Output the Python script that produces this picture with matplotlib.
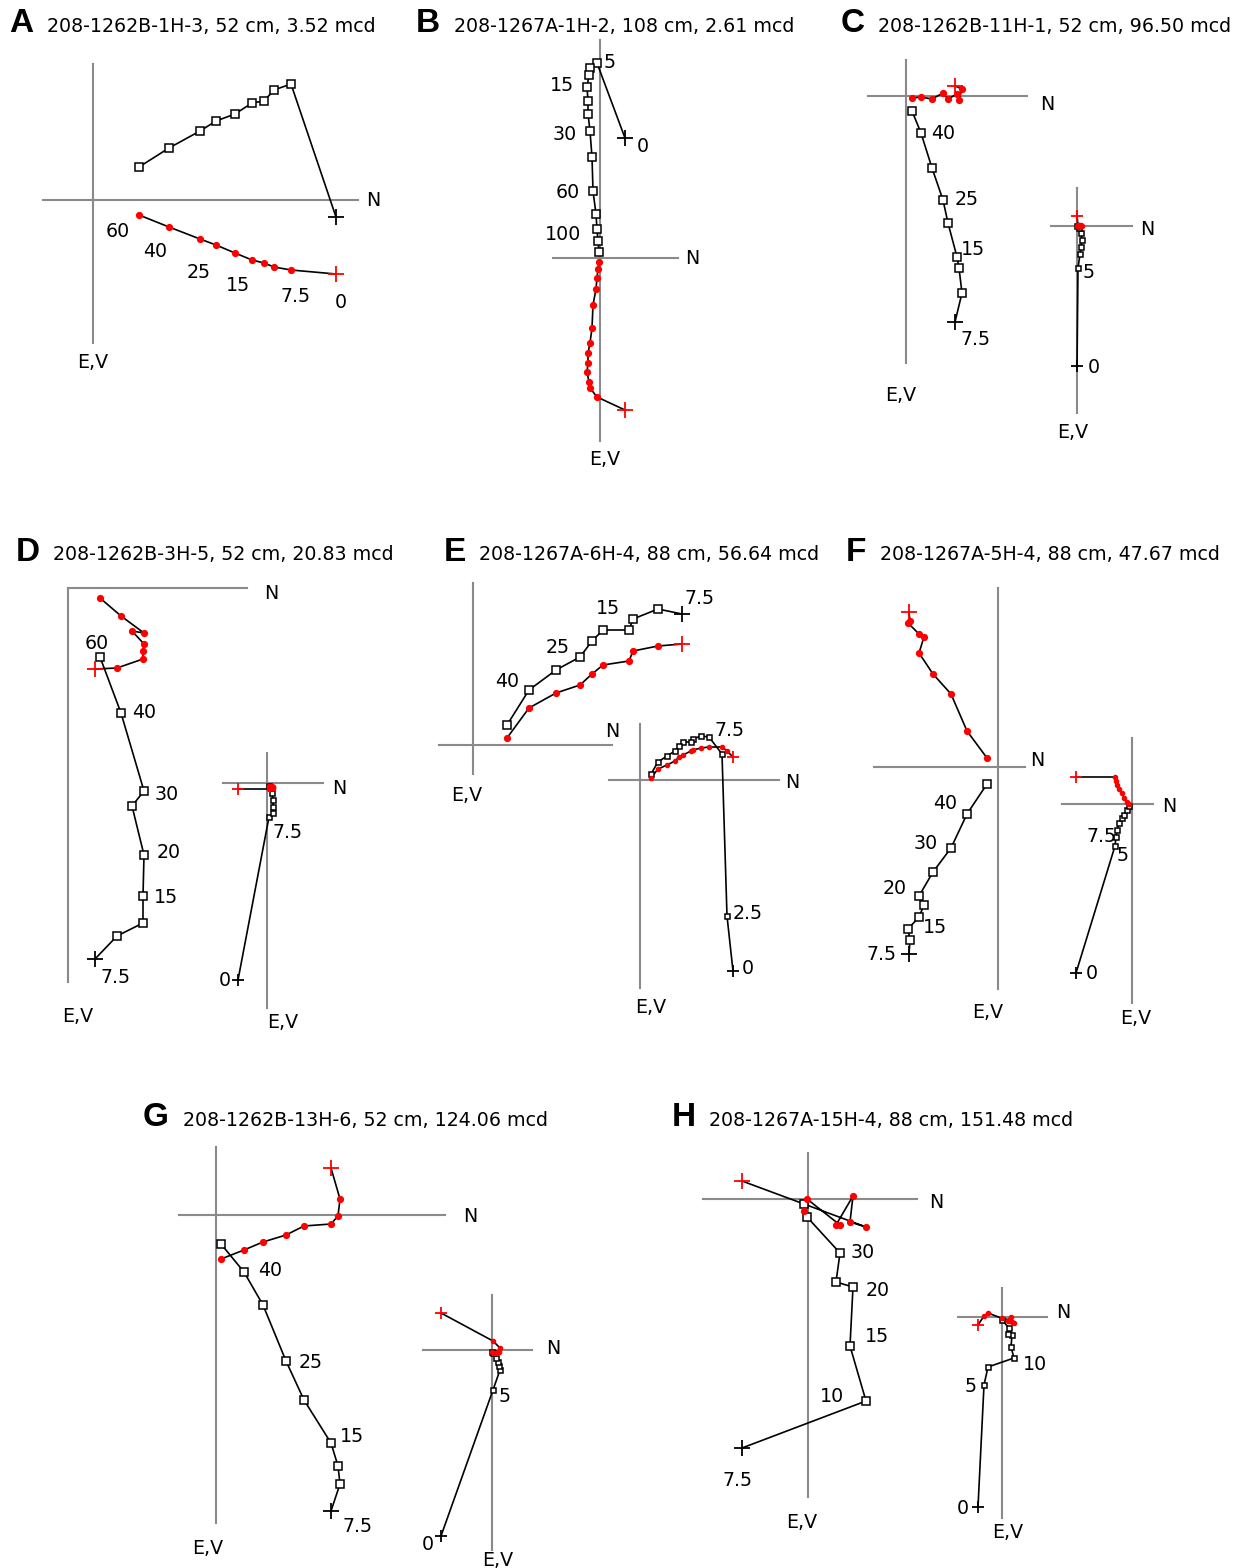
import numpy as np
import matplotlib.pyplot as plt

plt.rcParams['font.family'] = ['DejaVu Sans']

# ---- DATA: N component, E component (horizontal) and V component (vertical), NRM first ----
A_N = [243, 198, 181, 171, 159, 142, 123, 107, 76, 46]
A_E = [17, -116, -110, -99, -97, -86, -79, -69, -52, -33]
A_V = [74, 70, 67, 63, 60, 53, 45, 39, 27, 15]
A_STEPS = ["60", "40", "25", "15", "7.5", "0"]

B_N = [25, -3, -10, -11, -13, -12, -12, -10, -8, -7, -4, -3, -2, -1]
B_E = [-120, -195, -190, -183, -171, -157, -144, -127, -101, -67, -44, -29, -17, -6]
B_V = [152, 139, 130, 124, 114, 105, 95, 85, 70, 47, 31, 20, 11, 4]
B_STEPS = ["5", "15", "30", "60", "100", "0"]

C1_N = [49, 56, 53, 51, 42, 37, 26, 15, 6]
C1_E = [226, 197, 172, 161, 127, 104, 72, 37, 15]
C1_V = [-10, -7, 4, -2, 3, -3, 3, 1, 2]
C1_STEPS = ["40", "25", "15", "7.5"]

C2_N = [0, 1, 3, 4, 5, 4, 2, 0]
C2_E = [140, 42, 28, 21, 14, 7, 2, 0]
C2_V = [-10, -1, 0, 0, 0, -1, -1, 0]
C2_STEPS = ["5", "0"]

D1_N = [27, 49, 75, 75, 76, 64, 76, 53, 32]
D1_E = [371, 348, 335, 308, 267, 218, 203, 125, 69]
D1_V = [81, 80, 71, 63, 56, 43, 45, 28, 10]
D1_STEPS = ["60", "40", "30", "20", "15", "7.5"]

D2_N = [-29, 2, 6, 6, 6, 5, 2]
D2_E = [197, 34, 30, 24, 17, 10, 3]
D2_V = [6, 6, 5, 4, 4, 3, 3]
D2_STEPS = ["0", "7.5"]

E1_N = [209, 185, 160, 156, 130, 119, 107, 83, 56, 34]
E1_E = [-131, -136, -126, -115, -115, -104, -88, -75, -55, -20]
E1_V = [-101, -99, -94, -84, -80, -71, -60, -52, -37, -7]
E1_STEPS = ["7.5", "15", "25", "40"]

E2_N = [93, 87, 82, 69, 61, 53, 51, 43, 39, 35, 27, 18, 11]
E2_E = [191, 136, -26, -43, -44, -41, -38, -38, -34, -29, -24, -18, -6]
E2_V = [-23, -29, -33, -33, -32, -30, -29, -25, -23, -19, -15, -11, -2]
E2_STEPS = ["7.5", "2.5", "0"]

F1_N = [-89, -88, -90, -79, -74, -79, -65, -47, -31, -11]
F1_E = [187, 173, 162, 150, 138, 129, 105, 81, 47, 17]
F1_V = [-155, -146, -144, -133, -130, -114, -93, -73, -36, -9]
F1_STEPS = ["40", "30", "20", "15", "7.5"]

F2_N = [-56, -17, -16, -15, -13, -10, -8, -5, -3]
F2_E = [169, 42, 33, 26, 19, 14, 11, 6, 2]
F2_V = [-27, -27, -23, -19, -15, -11, -6, -2, 0]
F2_STEPS = ["7.5", "5", "0"]

G1_N = [115, 124, 122, 115, 88, 70, 47, 28, 5]
G1_E = [296, 269, 251, 228, 185, 146, 90, 57, 29]
G1_V = [-47, -16, 1, 9, 11, 20, 27, 35, 44]
G1_STEPS = ["40", "25", "15", "7.5"]

G2_N = [-51, 1, 8, 7, 6, 4, 1, 0]
G2_E = [186, 40, 20, 16, 12, 8, 3, 2]
G2_V = [-37, -9, -2, 2, 2, 3, 3, 2]
G2_STEPS = ["5", "0"]

H1_N = [-66, 58, 42, 45, 28, 32, -1, -4]
H1_E = [249, 202, 147, 88, 83, 54, 18, 5]
H1_V = [-18, 28, 23, -3, 26, 26, 0, 12]
H1_STEPS = ["30", "20", "15", "10", "7.5"]

H2_N = [-24, -18, -14, 12, 9, 10, 6, 7, 0]
H2_E = [190, 68, 50, 41, 30, 18, 17, 11, 3]
H2_V = [8, -1, -4, 6, 0, 5, 4, 3, 1]
H2_STEPS = ["10", "5", "0"]

TITLES = [
    ("A", "208-1262B-1H-3, 52 cm, 3.52 mcd"),
    ("B", "208-1267A-1H-2, 108 cm, 2.61 mcd"),
    ("C", "208-1262B-11H-1, 52 cm, 96.50 mcd"),
    ("D", "208-1262B-3H-5, 52 cm, 20.83 mcd"),
    ("E", "208-1267A-6H-4, 88 cm, 56.64 mcd"),
    ("F", "208-1267A-5H-4, 88 cm, 47.67 mcd"),
    ("G", "208-1262B-13H-6, 52 cm, 124.06 mcd"),
    ("H", "208-1267A-15H-4, 88 cm, 151.48 mcd"),
]

# ---- LAYOUT (pixel canvas) ----
title_pos = [((9, 32), (47, 31.7)), ((416, 32), (454, 31.7)), ((841, 32), (878, 31.7)),
             ((15.5, 560.7), (52.7, 560)), ((444, 560.7), (479.3, 560)), ((846, 560.7), (880, 560)),
             ((142.5, 1125.7), (182.7, 1125.7)), ((671.5, 1125.7), (709.3, 1125.7))]

diagrams = [
    dict(d=(A_N, A_E, A_V), steps=A_STEPS, origin=(93, 200), xr=(-50, 265), yr=(-136, 143), small=False,
         lpos=[(25, 31), (62, 51), (106, 72), (145, 85), (202, 96), (248, 102)], npos=(280, 0), evpos=(0, 162)),
    dict(d=(B_N, B_E, B_V), steps=B_STEPS, origin=(600, 258), xr=(-47, 78), yr=(-218, 183), small=False,
         lpos=[(10, -196), (-38, -173), (-35, -124), (-32, -66), (-37, -24), (43, -112)], npos=(92, 0), evpos=(5, 201)),
    dict(d=(C1_N, C1_E, C1_V), steps=C1_STEPS, origin=(906, 96), xr=(-38, 121), yr=(-36, 267), small=False,
         lpos=[(37, 37), (61, 103), (67, 153), (70, 243)], npos=(141, 8), evpos=(-5, 299)),
    dict(d=(C2_N, C2_E, C2_V), steps=C2_STEPS, origin=(1077, 226), xr=(-26, 55), yr=(-38, 187), small=True,
         lpos=[(12, 46), (17, 141)], npos=(70, 3), evpos=(-4, 206)),
    dict(d=(D1_N, D1_E, D1_V), steps=D1_STEPS, origin=(68, 588), xr=(0, 179), yr=(0, 394), small=False,
         lpos=[(29, 55), (76, 124), (99, 206), (101, 264), (98, 309), (47, 389)], npos=(203, 5), evpos=(10, 429)),
    dict(d=(D2_N, D2_E, D2_V), steps=D2_STEPS, origin=(267, 783), xr=(-44, 56), yr=(-30, 225), small=True,
         lpos=[(-42, 197), (20, 49)], npos=(72, 5), evpos=(16, 239)),
    dict(d=(E1_N, E1_E, E1_V), steps=E1_STEPS, origin=(473, 745), xr=(-34, 139), yr=(-162, 29), small=False,
         lpos=[(227, -147), (135, -137), (85, -98), (34, -64)], npos=(139, -14), evpos=(-6, 50)),
    dict(d=(E2_N, E2_E, E2_V), steps=E2_STEPS, origin=(640, 780), xr=(-31, 139), yr=(-56, 208), small=True,
         lpos=[(90, -50), (108, 133), (108, 188)], npos=(152, 2), evpos=(11, 227)),
    dict(d=(F1_N, F1_E, F1_V), steps=F1_STEPS, origin=(998, 767), xr=(-124, 27), yr=(-179, 222), small=False,
         lpos=[(-53, 36), (-72, 76), (-103, 121), (-63, 160), (-117, 187)], npos=(39, -7), evpos=(-10, 245)),
    dict(d=(F2_N, F2_E, F2_V), steps=F2_STEPS, origin=(1132, 804), xr=(-70, 21), yr=(-66, 199), small=True,
         lpos=[(-30, 32), (-9, 51), (-40, 169)], npos=(37, 2), evpos=(4, 214)),
    dict(d=(G1_N, G1_E, G1_V), steps=G1_STEPS, origin=(216, 1215), xr=(-37, 229), yr=(-68, 308), small=False,
         lpos=[(54, 55), (95, 148), (136, 221), (141, 312)], npos=(254, 1), evpos=(-8, 333)),
    dict(d=(G2_N, G2_E, G2_V), steps=G2_STEPS, origin=(492, 1350), xr=(-69, 40), yr=(-55, 200), small=True,
         lpos=[(13, 46), (-64, 194)], npos=(61, -1), evpos=(6, 210)),
    dict(d=(H1_N, H1_E, H1_V), steps=H1_STEPS, origin=(808, 1199), xr=(-105, 109), yr=(-46, 298), small=False,
         lpos=[(55, 53), (70, 92), (69, 137), (24, 197), (-70, 281)], npos=(128, 4), evpos=(-6, 323)),
    dict(d=(H2_N, H2_E, H2_V), steps=H2_STEPS, origin=(1002, 1317), xr=(-44, 45), yr=(-29, 201), small=True,
         lpos=[(33, 48), (-31, 70), (-39, 191)], npos=(61, -4), evpos=(6, 215)),
]

AXIS_GRAY = "#8a8a8a"
TXT = 13.65

fig = plt.figure(figsize=(12.41, 15.68), dpi=100)
ax = fig.add_axes([0, 0, 1, 1])
ax.set_xlim(0, 1241)
ax.set_ylim(1568, 0)
ax.axis("off")

for (letter, text), (lp, tp) in zip(TITLES, title_pos):
    ax.text(lp[0], lp[1], letter, fontsize=24, fontweight="bold", family="Liberation Sans",
            ha="left", va="baseline")
    ax.text(tp[0], tp[1], text, fontsize=TXT, ha="left", va="baseline")

for dg in diagrams:
    n, e, v = (np.asarray(a, dtype=float) for a in dg["d"])
    ox, oy = dg["origin"]
    x = ox + n
    ye = oy + e
    yv = oy + v
    sq = 3.6 if dg["small"] else 5.3
    dot = 3.0 if dg["small"] else 4.2
    plus = 8 if dg["small"] else 11

    # axes cross
    ax.plot([ox + dg["xr"][0], ox + dg["xr"][1]], [oy, oy], color=AXIS_GRAY, lw=1.5, zorder=1)
    ax.plot([ox, ox], [oy + dg["yr"][0], oy + dg["yr"][1]], color=AXIS_GRAY, lw=1.5, zorder=1)
    ax.text(ox + dg["npos"][0], oy + dg["npos"][1], "N", fontsize=TXT, ha="center", va="center")
    ax.text(ox + dg["evpos"][0], oy + dg["evpos"][1], "E,V", fontsize=TXT, ha="center", va="center")

    # horizontal projection (open squares)
    ax.plot(x, ye, color="black", lw=1.2, zorder=2)
    ax.plot(x[1:], ye[1:], "s", ms=sq, mfc="white", mec="black", mew=1.1, zorder=3)
    ax.plot(x[0], ye[0], "+", ms=plus, color="black", mew=1.3, zorder=3)

    # vertical projection (red dots)
    ax.plot(x, yv, color="black", lw=1.2, zorder=2)
    ax.plot(x[1:], yv[1:], "o", ms=dot, color="red", mec="red", zorder=3)
    ax.plot(x[0], yv[0], "+", ms=plus, color="red", mew=1.3, zorder=3)

    for lab, (dx, dy) in zip(dg["steps"], dg["lpos"]):
        ax.text(ox + dx, oy + dy, lab, fontsize=TXT, ha="center", va="center")

fig.savefig("out.png", dpi=100)
